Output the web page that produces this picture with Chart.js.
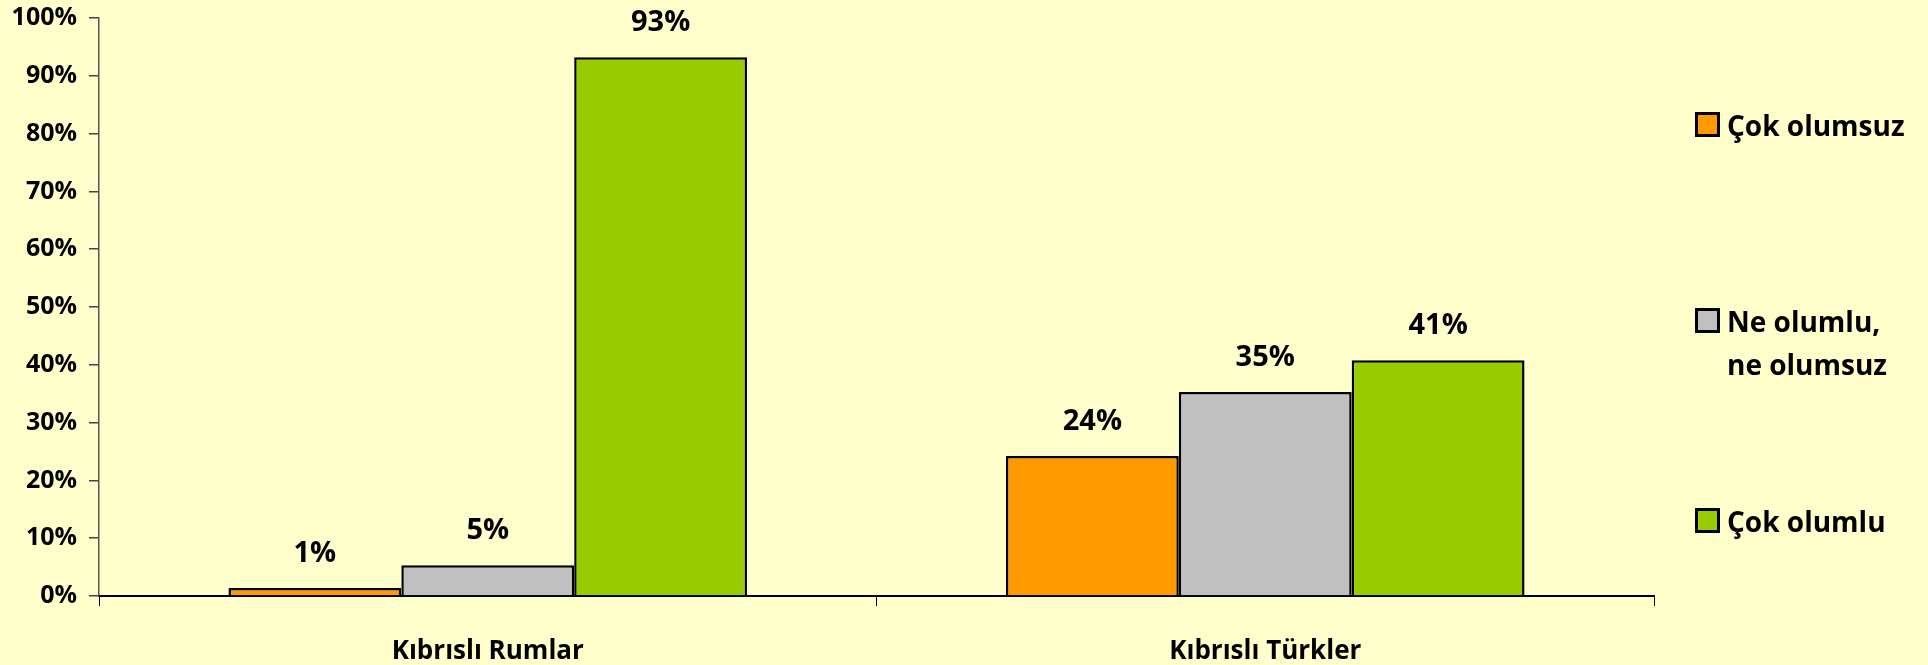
<!DOCTYPE html>
<html>
<head>
<meta charset="utf-8">
<script src="https://cdn.jsdelivr.net/npm/chart.js@4"></script>
<style>
  html, body { margin: 0; padding: 0; background: #FFFFCC; }
  #wrap { position: relative; width: 1928px; height: 665px; }
  #legend { position: absolute; left: 1695px; top: 0; font-family: 'Open Sans', sans-serif; font-weight: bold; font-size: 28px; color: #000; }
  .item { position: absolute; left: 0; white-space: nowrap; }
  .box { position: absolute; left: 0; width: 19px; height: 19px; border: 3px solid #000; }
  .txt { position: absolute; left: 32px; line-height: 43px; }
</style>
</head>
<body>
<div id="wrap">
  <canvas id="chart"></canvas>
  <div id="legend"></div>
</div>
<script>
// kategoriler ve seriler
const categories = ['Kıbrıslı Rumlar', 'Kıbrıslı Türkler'];
const seriesNames = [['Çok olumsuz'], ['Ne olumlu,', 'ne olumsuz'], ['Çok olumlu']];
const cokOlumsuz = [1.4, 24.2];
const neOlumluNeOlumsuz = [5.3, 35.3];
const cokOlumlu = [93.2, 40.8];
const seriesColors = ['#FF9900', '#C0C0C0', '#99CC00'];
const yTicks = [0, 10, 20, 30, 40, 50, 60, 70, 80, 90, 100];

const FONT = "'Open Sans', sans-serif";
Chart.defaults.font.family = FONT;
Chart.defaults.font.weight = 'bold';
Chart.defaults.color = '#000';

// bar üstü yüzde etiketleri
const valueLabels = {
  id: 'valueLabels',
  afterDatasetsDraw(chart) {
    const ctx = chart.ctx;
    ctx.save();
    ctx.font = 'bold 29px ' + FONT;
    ctx.fillStyle = '#000';
    ctx.textAlign = 'center';
    ctx.textBaseline = 'alphabetic';
    chart.data.datasets.forEach((ds, i) => {
      chart.getDatasetMeta(i).data.forEach((bar, j) => {
        ctx.fillText(Math.round(ds.data[j]) + '%', bar.x, bar.y - 26);
      });
    });
    ctx.restore();
  }
};

const dataSets = [cokOlumsuz, neOlumluNeOlumsuz, cokOlumlu].map((vals, i) => ({
  label: seriesNames[i].join(' '),
  data: vals,
  backgroundColor: seriesColors[i],
  borderColor: '#000',
  borderWidth: 2.5,
  categoryPercentage: 0.667,
  barPercentage: 1
}));

new Chart(document.getElementById('chart').getContext('2d'), {
  type: 'bar',
  data: { labels: categories, datasets: dataSets },
  plugins: [valueLabels],
  options: {
    responsive: true,
    maintainAspectRatio: false,
    animation: false,
    layout: { padding: { top: 18, right: 274, left: 0, bottom: 0 } },
    plugins: { legend: { display: false }, tooltip: { enabled: false } },
    scales: {
      x: {
        grid: { drawOnChartArea: false, drawTicks: true, tickLength: 10, color: '#000', lineWidth: 1 },
        border: { display: true, color: '#000', width: 2 },
        ticks: { font: { size: 26, weight: 'bold' }, padding: 30 },
        afterFit: s => { s.height = 69; }
      },
      y: {
        min: 0,
        max: 100,
        afterBuildTicks: s => { s.ticks = yTicks.map(v => ({ value: v })); },
        grid: { drawOnChartArea: false, drawTicks: true, tickLength: 10, color: '#444', lineWidth: 1.5 },
        border: { display: true, color: '#555', width: 1.5 },
        ticks: { font: { size: 25, weight: 'bold' }, padding: 12, callback: v => v + '%' },
        afterFit: s => { s.width = 99; s.paddingTop = 0; s.paddingBottom = 0; }
      }
    }
  }
});

// legend (sağ taraf)
const legendTops = [104, 300, 500];
const legendEl = document.getElementById('legend');
seriesNames.forEach((lines, i) => {
  const item = document.createElement('div');
  item.className = 'item';
  item.style.top = legendTops[i] + 'px';
  const box = document.createElement('div');
  box.className = 'box';
  box.style.background = seriesColors[i];
  box.style.top = '8px';
  const txt = document.createElement('div');
  txt.className = 'txt';
  txt.innerHTML = lines.join('<br>');
  item.appendChild(box);
  item.appendChild(txt);
  legendEl.appendChild(item);
});
</script>
</body>
</html>
